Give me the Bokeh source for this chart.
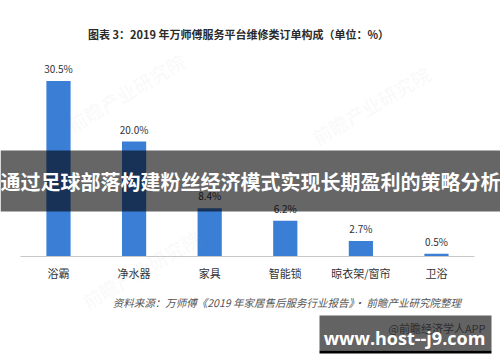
from bokeh.plotting import figure
from bokeh.models import (ColumnDataSource, Range1d, FixedTicker, Label,
                          BoxAnnotation)
from bokeh.core.properties import value
from bokeh.embed import file_html
from bokeh.resources import INLINE

# 2019 repair-order mix on the platform (%)
categories = ["浴霸", "净水器", "家具", "智能锁", "晾衣架/窗帘", "卫浴"]
shares = [30.5, 20.0, 8.4, 6.2, 2.7, 0.5]
share_labels = [f"{v:.1f}%" for v in shares]

title_text = "图表 3：2019 年万师傅服务平台维修类订单构成（单位：%）"
source_text = "资料来源：万师傅《2019 年家居售后服务行业报告》· 前瞻产业研究院整理"
banner_text = "通过足球部落构建粉丝经济模式实现长期盈利的策略分析"
site_text = "www.host--j9.com"
app_text = "@前瞻经济学人APP"
mark_text = "前瞻产业研究院"

CJK = "Noto Sans CJK SC"
W, H = 500, 362

xs = list(range(len(categories)))
src = ColumnDataSource(dict(x=xs, share=shares, label=share_labels))

# frame covers the whole canvas; the category axis is pinned at y=0
p = figure(width=W, height=H, output_backend="svg", toolbar_location=None,
           x_range=Range1d(-0.767, 5.847), y_range=Range1d(-18.43, 44.52),
           min_border=0, outline_line_color=None, background_fill_color="white",
           border_fill_color="white")
p.grid.visible = False
p.yaxis.visible = False

ax = p.xaxis[0]
ax.fixed_location = 0
ax.bounds = (-0.5, len(categories) - 0.5)
ax.ticker = FixedTicker(ticks=xs)
ax.major_label_overrides = {i: c for i, c in enumerate(categories)}
ax.axis_line_color = "#c8c8c8"
ax.axis_line_width = 1
ax.major_tick_line_color = None
ax.minor_tick_line_color = None
ax.major_tick_out = 0
ax.major_tick_in = 0
ax.major_label_standoff = 8
ax.major_label_text_font = CJK
ax.major_label_text_font_size = "11px"
ax.major_label_text_color = "#333333"

# faint diagonal watermarks
for (mx, my) in [(75, 225), (320, 212), (90, 48)]:
    p.add_layout(Label(x=mx, y=my, x_units="screen", y_units="screen",
                       text=mark_text, angle=0.53, text_font=CJK,
                       text_font_size="19px", text_font_style="bold",
                       text_color="#a0a0a0", text_alpha=0.06))

p.vbar(x="x", top="share", width=0.32, source=src, fill_color="#3a7ed6",
       line_color=None)
p.text(x="x", y="share", text="label", source=src, text_align="center",
       text_baseline="bottom", y_offset=-5, text_font=value(CJK),
       text_font_size="10px", text_color="#333333")

p.add_layout(Label(x=238, y=H - 33, x_units="screen", y_units="screen",
                   text=title_text, text_align="center",
                   text_baseline="middle", text_font=CJK,
                   text_font_size="11px", text_font_style="bold",
                   text_color="#2a2a2a"))

p.add_layout(Label(x=289, y=H - 302, x_units="screen", y_units="screen",
                   text=source_text, text_align="center",
                   text_baseline="middle", text_font=CJK,
                   text_font_size="10.5px", text_font_style="italic",
                   text_color="#555555"))

# dark translucent banner across the chart
p.add_layout(BoxAnnotation(left=0, right=W, bottom=H - 211, top=H - 150,
                           left_units="screen", right_units="screen",
                           bottom_units="screen", top_units="screen",
                           fill_color="black", fill_alpha=0.6,
                           line_color=None))
p.add_layout(Label(x=250, y=H - 181, x_units="screen", y_units="screen",
                   text=banner_text, text_align="center",
                   text_baseline="middle", text_font=CJK,
                   text_font_size="20px", text_font_style="bold",
                   text_color="white"))

# site badge, bottom right
p.add_layout(BoxAnnotation(left=319, right=491, bottom=H - 350, top=H - 315,
                           left_units="screen", right_units="screen",
                           bottom_units="screen", top_units="screen",
                           fill_color="#636363", fill_alpha=1.0,
                           line_color=None))
p.add_layout(BoxAnnotation(left=319, right=491, bottom=H - 353, top=H - 350,
                           left_units="screen", right_units="screen",
                           bottom_units="screen", top_units="screen",
                           fill_color="black", fill_alpha=1.0,
                           line_color=None))
p.add_layout(Label(x=485, y=H - 327, x_units="screen", y_units="screen",
                   text=app_text, text_align="right", text_baseline="middle",
                   text_font=CJK, text_font_size="11px",
                   text_color="#2e2e2e"))
p.add_layout(Label(x=404, y=H - 337, x_units="screen", y_units="screen",
                   text=site_text, text_align="center",
                   text_baseline="middle", text_font="Open Sans",
                   text_font_size="18px", text_font_style="bold",
                   text_color="white"))

open("out.html", "w").write(file_html(p, INLINE))
